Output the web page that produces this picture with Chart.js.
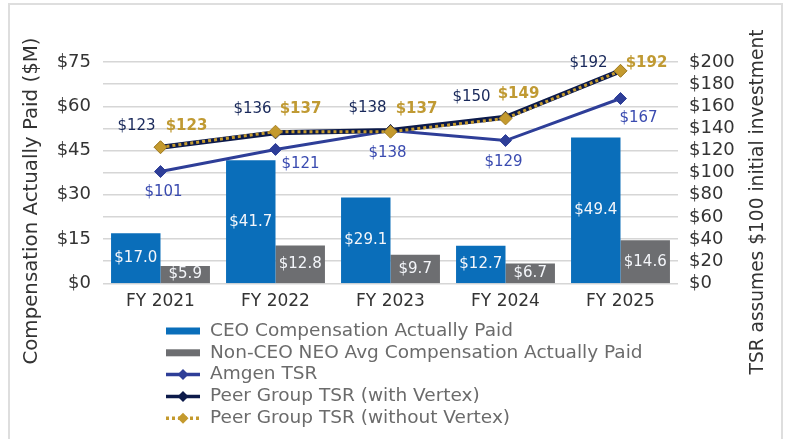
<!DOCTYPE html>
<html>
<head>
<meta charset="utf-8">
<script src="https://cdn.jsdelivr.net/npm/chart.js@4.4.1/dist/chart.umd.min.js"></script>
<style>
    html, body { margin: 0; padding: 0; background: #fff; }
    #wrap { position: relative; width: 785px; height: 439px; overflow: hidden; }
    #frame { position: absolute; left: 8px; top: 3px; width: 775px; height: 460px; border: 2px solid #dedede; box-sizing: border-box; }
    #chart { position: absolute; left: 0; top: 0; }
</style>
</head>
<body>
<div id="wrap">
    <div id="frame"></div>
    <canvas id="chart" width="785" height="439"></canvas>
</div>
<script>
// --- Data ---
const fiscalYears = ['FY 2021', 'FY 2022', 'FY 2023', 'FY 2024', 'FY 2025'];
const ceoCompPaid = [17.0, 41.7, 29.1, 12.7, 49.4];
const neoAvgCompPaid = [5.9, 12.8, 9.7, 6.7, 14.6];
const amgenTsr = [101, 121, 138, 129, 167];
const peerTsrWithVertex = [123, 136, 138, 150, 192];
const peerTsrWithoutVertex = [123, 137, 137, 149, 192];

// --- Label placement (pixel nudges around each point) ---
const amgenLabelOffsets = [[3, 21], [25, 15], [-3, 23], [-2, 22], [18, 20]];
const withVertexLabelOffsets = [[-24, -21], [-23, -24], [-23, -22], [-34, -20], [-32, -8]];
const withoutVertexLabelOffsets = [[26, -21], [25, -23], [26, -23], [13, -24], [26, -8]];

const FONT = "'DejaVu Sans', sans-serif";
const colors = {
    ceo: '#0a6eba',
    neo: '#6d6e71',
    amgen: '#2e3e98',
    navy: '#0c1a4a',
    gold: '#c49a2e',
    text: '#333333',
    legend: '#6b6b6b',
    grid: '#d6d6d6'
};

const money = v => '$' + v;

// --- Plugins ---
const valueLabels = {
    id: 'valueLabels',
    afterDatasetsDraw(chart) {
        const ctx = chart.ctx;
        ctx.save();
        ctx.textAlign = 'center';
        ctx.textBaseline = 'middle';
        chart.data.datasets.forEach((ds, i) => {
            const meta = chart.getDatasetMeta(i);
            meta.data.forEach((el, j) => {
                const v = ds.data[j];
                if (ds.type === 'bar') {
                    ctx.font = '15px ' + FONT;
                    ctx.fillStyle = '#f4f6fa';
                    ctx.fillText('$' + v.toFixed(1), el.x, (el.y + el.base) / 2);
                } else {
                    const off = ds.labelOffsets[j];
                    ctx.font = (ds.labelBold ? 'bold ' : '') + '15px ' + FONT;
                    ctx.fillStyle = ds.labelColor;
                    ctx.fillText(money(v), el.x + off[0], el.y + off[1]);
                }
            });
        });
        ctx.restore();
    }
};

const sideTitles = {
    id: 'sideTitles',
    afterDraw(chart) {
        const ctx = chart.ctx;
        ctx.save();
        ctx.fillStyle = colors.text;
        ctx.textAlign = 'center';
        ctx.textBaseline = 'middle';
        [[32, 201, 19.8, 'Compensation Actually Paid ($M)'], [758, 202, 18.6, 'TSR assumes $100 initial investment']].forEach(([x, y, size, t]) => {
            ctx.save();
            ctx.font = size + 'px ' + FONT;
            ctx.translate(x, y);
            ctx.rotate(-Math.PI / 2);
            ctx.fillText(t, 0, 0);
            ctx.restore();
        });
        ctx.restore();
    }
};

const stackedLegend = {
    id: 'stackedLegend',
    afterDraw(chart) {
        const ctx = chart.ctx;
        const x0 = 166, x1 = 200, top = 331, gap = 21.8;
        ctx.save();
        ctx.font = '18.5px ' + FONT;
        ctx.textBaseline = 'middle';
        chart.data.datasets.forEach((ds, i) => {
            const y = top + i * gap;
            if (ds.type === 'bar') {
                ctx.fillStyle = ds.backgroundColor;
                ctx.fillRect(x0, y - 3.5, x1 - x0, 7);
            } else {
                ctx.strokeStyle = ds.borderColor;
                ctx.lineWidth = 3.5;
                ctx.setLineDash(ds.borderDash || []);
                ctx.beginPath();
                ctx.moveTo(x0, y);
                ctx.lineTo(x1, y);
                ctx.stroke();
                ctx.setLineDash([]);
                const cx = (x0 + x1) / 2, r = 5.5;
                ctx.fillStyle = ds.pointBackgroundColor;
                ctx.beginPath();
                ctx.moveTo(cx, y - r);
                ctx.lineTo(cx + r, y);
                ctx.lineTo(cx, y + r);
                ctx.lineTo(cx - r, y);
                ctx.closePath();
                ctx.fill();
            }
            ctx.fillStyle = colors.legend;
            ctx.fillText(ds.label, 210, y);
        });
        ctx.restore();
    }
};

// --- Chart ---
const ctx = document.getElementById('chart').getContext('2d');
new Chart(ctx, {
    data: {
        labels: fiscalYears,
        datasets: [
            {
                type: 'bar',
                label: 'CEO Compensation Actually Paid',
                data: ceoCompPaid,
                backgroundColor: colors.ceo,
                yAxisID: 'y',
                order: 9
            },
            {
                type: 'bar',
                label: 'Non-CEO NEO Avg Compensation Actually Paid',
                data: neoAvgCompPaid,
                backgroundColor: colors.neo,
                yAxisID: 'y',
                order: 10
            },
            {
                type: 'line',
                label: 'Amgen TSR',
                data: amgenTsr,
                borderColor: colors.amgen,
                borderWidth: 3,
                pointStyle: 'rectRot',
                pointRadius: 6,
                pointBackgroundColor: colors.amgen,
                pointBorderColor: colors.amgen,
                pointBorderWidth: 1,
                yAxisID: 'y1',
                order: 3,
                labelOffsets: amgenLabelOffsets,
                labelColor: '#3a4bb0'
            },
            {
                type: 'line',
                label: 'Peer Group TSR (with Vertex)',
                data: peerTsrWithVertex,
                borderColor: colors.navy,
                borderWidth: 5,
                pointStyle: 'rectRot',
                pointRadius: 6,
                pointBackgroundColor: colors.navy,
                pointBorderColor: colors.navy,
                pointBorderWidth: 1,
                yAxisID: 'y1',
                order: 2,
                labelOffsets: withVertexLabelOffsets,
                labelColor: '#18285a'
            },
            {
                type: 'line',
                label: 'Peer Group TSR (without Vertex)',
                data: peerTsrWithoutVertex,
                borderColor: colors.gold,
                borderWidth: 3,
                borderDash: [3, 3],
                pointStyle: 'rectRot',
                pointRadius: 6.5,
                pointBackgroundColor: colors.gold,
                pointBorderColor: '#a88226',
                pointBorderWidth: 1,
                yAxisID: 'y1',
                order: 1,
                labelOffsets: withoutVertexLabelOffsets,
                labelColor: '#c09a33',
                labelBold: true
            }
        ]
    },
    options: {
        responsive: false,
        animation: false,
        devicePixelRatio: 1,
        layout: { padding: { top: 62, left: 0, right: 0, bottom: 0 } },
        datasets: {
            bar: { categoryPercentage: 0.86, barPercentage: 1 }
        },
        plugins: {
            legend: { display: false },
            tooltip: { enabled: false }
        },
        scales: {
            x: {
                grid: { display: false, drawTicks: false },
                border: { display: false },
                ticks: { color: colors.text, font: { family: FONT, size: 17 }, padding: 8 },
                afterFit(scale) { scale.height = 155.7; }
            },
            y: {
                position: 'left',
                min: 0,
                max: 75,
                grid: { display: false, drawTicks: false },
                border: { display: false },
                ticks: { stepSize: 15, autoSkip: false, color: colors.text, font: { family: FONT, size: 18 }, padding: 12, callback: money },
                afterFit(scale) { scale.width = 103; }
            },
            y1: {
                position: 'right',
                min: 0,
                max: 200,
                grid: { color: colors.grid, lineWidth: 1.5, drawTicks: false },
                border: { display: false },
                ticks: { stepSize: 20, autoSkip: false, color: colors.text, font: { family: FONT, size: 18 }, padding: 11, callback: money },
                afterFit(scale) { scale.width = 107; }
            }
        }
    },
    plugins: [valueLabels, sideTitles, stackedLegend]
});
</script>
</body>
</html>
